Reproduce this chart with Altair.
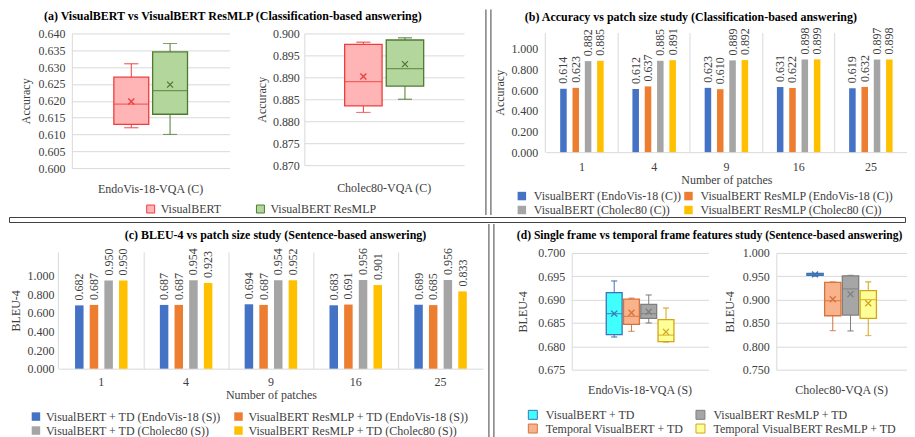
import altair as alt
import pandas as pd
import numpy as np

FONT = "Liberation Serif"
TXT = "#404040"
GRID = "#D9D9D9"
FRAME = "#404040"

# ---------------- data ----------------
patches = ["1", "4", "9", "16", "25"]

b_series = ["VisualBERT (EndoVis-18 (C))", "VisualBERT ResMLP (EndoVis-18 (C))",
            "VisualBERT (Cholec80 (C))", "VisualBERT ResMLP (Cholec80 (C))"]
b_visualbert_endo = [0.614, 0.612, 0.623, 0.631, 0.619]
b_resmlp_endo = [0.623, 0.637, 0.610, 0.622, 0.632]
b_visualbert_chol = [0.882, 0.885, 0.889, 0.898, 0.897]
b_resmlp_chol = [0.885, 0.891, 0.892, 0.899, 0.898]

c_series = ["VisualBERT + TD (EndoVis-18 (S))", "VisualBERT ResMLP + TD (EndoVis-18 (S))",
            "VisualBERT + TD (Cholec80 (S))", "VisualBERT ResMLP + TD (Cholec80 (S))"]
c_visualbert_endo = [0.682, 0.687, 0.694, 0.683, 0.689]
c_resmlp_endo = [0.687, 0.687, 0.687, 0.691, 0.685]
c_visualbert_chol = [0.950, 0.954, 0.954, 0.956, 0.956]
c_resmlp_chol = [0.950, 0.923, 0.952, 0.901, 0.833]

bar_colors = ["#4472C4", "#ED7D31", "#A5A5A5", "#FFC000"]

a_models = ["VisualBERT", "VisualBERT ResMLP"]
a_datasets = ["EndoVis-18-VQA (C)", "Cholec80-VQA (C)"]
a_fill = ["#FFB5B5", "#B3D69C"]
a_stroke = ["#F03C3C", "#4E7A30"]

d_legend_order = ["VisualBERT + TD", "VisualBERT ResMLP + TD",
                  "Temporal VisualBERT + TD", "Temporal VisualBERT ResMLP + TD"]
d_box_order = ["VisualBERT + TD", "Temporal VisualBERT + TD",
               "VisualBERT ResMLP + TD", "Temporal VisualBERT ResMLP + TD"]
d_fill = ["#40FFFF", "#A6A6A6", "#F8B28C", "#FFFF99"]
d_stroke = ["#3F72B5", "#7F7F7F", "#D8723A", "#D4A514"]
d_datasets = ["EndoVis-18-VQA (S)", "Cholec80-VQA (S)"]

# temporal models: box summaries [min, q1, median, q3, max, mean]
temporal_vb_endo = [0.6832, 0.6847, 0.6864, 0.6901, 0.6903, 0.6872]
temporal_rm_endo = [0.6809, 0.6810, 0.6824, 0.6857, 0.6882, 0.6831]
temporal_vb_chol = [0.8336, 0.8655, 0.8979, 0.9370, 0.9377, 0.9007]
temporal_rm_chol = [0.8230, 0.8598, 0.9000, 0.9193, 0.9380, 0.8924]

a1_ticks = [0.600, 0.605, 0.610, 0.615, 0.620, 0.625, 0.630, 0.635, 0.640]
a2_ticks = [0.870, 0.875, 0.880, 0.885, 0.890, 0.895, 0.900]
d1_ticks = [0.675, 0.680, 0.685, 0.690, 0.695, 0.700]
d2_ticks = [0.750, 0.800, 0.850, 0.900, 0.950, 1.000]
bar_ticks = [0.0, 0.2, 0.4, 0.6, 0.8, 1.0]

titles = {
    "a": "(a) VisualBERT vs VisualBERT ResMLP (Classification-based answering)",
    "b": "(b) Accuracy vs patch size study (Classification-based answering)",
    "c": "(c) BLEU-4 vs patch size study (Sentence-based answering)",
    "d": "(d) Single frame vs temporal frame features study (Sentence-based answering)",
}

STATS = ["min", "q1", "median", "q3", "max", "mean"]


def summary(vals):
    v = np.array(vals, dtype=float)
    q1, med, q3 = np.percentile(v, [25, 50, 75], method="weibull")
    return [v.min(), q1, med, q3, v.max(), v.mean()]


def box_rows(dataset, model, stats):
    return dict(dataset=dataset, model=model, **dict(zip(STATS, stats)))


a_df = pd.DataFrame([
    box_rows(a_datasets[0], a_models[0], summary(b_visualbert_endo)),
    box_rows(a_datasets[0], a_models[1], summary(b_resmlp_endo)),
    box_rows(a_datasets[1], a_models[0], summary(b_visualbert_chol)),
    box_rows(a_datasets[1], a_models[1], summary(b_resmlp_chol)),
])
d_df = pd.DataFrame([
    box_rows(d_datasets[0], "VisualBERT + TD", summary(c_visualbert_endo)),
    box_rows(d_datasets[0], "VisualBERT ResMLP + TD", summary(c_resmlp_endo)),
    box_rows(d_datasets[0], "Temporal VisualBERT + TD", temporal_vb_endo),
    box_rows(d_datasets[0], "Temporal VisualBERT ResMLP + TD", temporal_rm_endo),
    box_rows(d_datasets[1], "VisualBERT + TD", summary(c_visualbert_chol)),
    box_rows(d_datasets[1], "VisualBERT ResMLP + TD", summary(c_resmlp_chol)),
    box_rows(d_datasets[1], "Temporal VisualBERT + TD", temporal_vb_chol),
    box_rows(d_datasets[1], "Temporal VisualBERT ResMLP + TD", temporal_rm_chol),
])

b_df = pd.DataFrame({
    "patch": patches * 4,
    "series": [s for s in b_series for _ in patches],
    "value": b_visualbert_endo + b_resmlp_endo + b_visualbert_chol + b_resmlp_chol,
})
c_df = pd.DataFrame({
    "patch": patches * 4,
    "series": [s for s in c_series for _ in patches],
    "value": c_visualbert_endo + c_resmlp_endo + c_visualbert_chol + c_resmlp_chol,
})

XMARK = "M-1,-1L1,1M-1,1L1,-1"
ONE = pd.DataFrame({"v": [0]})


def ind(c):
    return c.resolve_scale(color="independent", fill="independent",
                           stroke="independent", xOffset="independent")


def box_plot(df, dataset, dom, order, fills, strokes, ydom, yticks, width, height,
             po, pi, box_w, cap_w, ytitle, label_pad, title_pad, xlabel_pad):
    sub = df[df["dataset"] == dataset]
    base = alt.Chart(sub)
    x = alt.X("dataset:N", title=None,
              scale=alt.Scale(paddingOuter=po, paddingInner=0),
              axis=alt.Axis(labelAngle=0, ticks=False, domain=False, grid=False,
                            labelPadding=xlabel_pad, labelFontSize=12))
    xo = alt.XOffset("model:N", sort=order,
                     scale=alt.Scale(paddingInner=pi, paddingOuter=0))
    ysc = alt.Scale(domain=ydom, nice=False, zero=False)
    yax = alt.Axis(values=yticks, format=".3f", grid=True, gridColor=GRID,
                   domain=True, domainColor=GRID, ticks=False,
                   labelPadding=label_pad, title=ytitle, titlePadding=title_pad)

    def Y(f):
        return alt.Y(f + ":Q", scale=ysc, axis=yax)

    fill = alt.Fill("model:N", scale=alt.Scale(domain=dom, range=fills), legend=None)
    stroke = alt.Stroke("model:N", scale=alt.Scale(domain=dom, range=strokes), legend=None)
    lower = base.mark_rule(strokeWidth=1).encode(x=x, xOffset=xo, y=Y("min"), y2="q1:Q", stroke=stroke)
    upper = base.mark_rule(strokeWidth=1).encode(x=x, xOffset=xo, y=Y("q3"), y2="max:Q", stroke=stroke)
    capl = base.mark_tick(size=cap_w, thickness=0, strokeWidth=1).encode(x=x, xOffset=xo, y=Y("min"), stroke=stroke)
    capu = base.mark_tick(size=cap_w, thickness=0, strokeWidth=1).encode(x=x, xOffset=xo, y=Y("max"), stroke=stroke)
    box = base.mark_bar(strokeWidth=1.3).encode(x=x, xOffset=xo, y=Y("q1"), y2="q3:Q", fill=fill, stroke=stroke)
    med = base.mark_tick(size=box_w, thickness=0, strokeWidth=1.3).encode(x=x, xOffset=xo, y=Y("median"), stroke=stroke)
    mean = base.mark_point(shape=XMARK, size=36, strokeWidth=1.3, filled=False, opacity=1).encode(
        x=x, xOffset=xo, y=Y("mean"), stroke=stroke)
    return alt.layer(lower, upper, capl, capu, box, med, mean).properties(width=width, height=height)


def legend_unit(dom, fills, strokes, lx, ly, colpad, rowpad, symsize, loff):
    leg = alt.Legend(orient="none", legendX=lx, legendY=ly, direction="horizontal",
                     columns=2, title=None, symbolType="square", symbolSize=symsize,
                     symbolStrokeWidth=1, labelFont=FONT, labelFontSize=12, labelColor=TXT,
                     labelLimit=600, columnPadding=colpad, rowPadding=rowpad, labelOffset=loff,
                     symbolOpacity=1)
    df = pd.DataFrame({"model": dom})
    return alt.Chart(df).mark_square(size=0, opacity=1).encode(
        fill=alt.Fill("model:N", scale=alt.Scale(domain=dom, range=fills), legend=leg),
        stroke=alt.Stroke("model:N", scale=alt.Scale(domain=dom, range=strokes), legend=leg),
    ).properties(width=1, height=1)


def bar_plot(df, series, ytitle, width, height, ymax,
             lx, ly, colpad, rowpad, loff, label_pad, title_pad, xlab_pad, p, pi):
    base = alt.Chart(df).encode(
        x=alt.X("patch:N", sort=patches, title="Number of patches",
                scale=alt.Scale(paddingInner=p, paddingOuter=p / 2),
                axis=alt.Axis(labelAngle=0, ticks=False, domain=True, domainColor=GRID,
                              grid=True, gridColor=GRID, bandPosition=-p / (2 * (1 - p)),
                              labelPadding=xlab_pad, titlePadding=2)),
        xOffset=alt.XOffset("series:N", sort=series,
                            scale=alt.Scale(paddingInner=pi, paddingOuter=0)),
        y=alt.Y("value:Q", title=ytitle, scale=alt.Scale(domain=[0, ymax], nice=False),
                axis=alt.Axis(values=bar_ticks, format=".3f", grid=False, domain=False,
                              ticks=False, labelPadding=label_pad, titlePadding=title_pad)),
    )
    leg = alt.Legend(orient="none", legendX=lx, legendY=ly, direction="horizontal",
                     columns=2, title=None, symbolType="square", symbolSize=72,
                     symbolStrokeWidth=0, labelFont=FONT, labelFontSize=12, labelColor=TXT,
                     labelLimit=600, columnPadding=colpad, rowPadding=rowpad, labelOffset=loff)
    bars = base.mark_bar().encode(
        color=alt.Color("series:N", sort=series,
                        scale=alt.Scale(domain=series, range=bar_colors), legend=leg))
    labels = base.mark_text(angle=270, align="left", baseline="middle", dx=5,
                            font=FONT, fontSize=12, color=TXT).encode(
        text=alt.Text("value:Q", format=".3f"))
    return alt.layer(bars, labels).properties(width=width, height=height)


def title_unit(text, dx, offset, size=12):
    return alt.Chart(ONE).mark_rule(opacity=0).encode(
        x=alt.value(0), y=alt.value(0), y2=alt.value(1)).properties(
        width=1, height=1, view=alt.ViewBackground(stroke=None, fill=None),
        title=alt.TitleParams(text, anchor="start", frame="group", dx=dx, offset=offset,
                              fontSize=size))


def gap(w):
    return alt.Chart(ONE).mark_rule(opacity=0).encode(
        x=alt.value(0), y=alt.value(0), y2=alt.value(1)).properties(
        width=w, height=1, view=alt.ViewBackground(stroke=None, fill=None))


def vsep(up, down):
    # the two adjoining panel borders (decorative frame lines)
    left = alt.Chart(ONE).mark_rule(color=FRAME, strokeWidth=1).encode(
        x=alt.value(0), y=alt.value(-up), y2=alt.value(down))
    right = alt.Chart(ONE).mark_rule(color=FRAME, strokeWidth=1).encode(
        x=alt.value(5), y=alt.value(-up), y2=alt.value(down))
    return alt.layer(left, right).properties(
        width=5, height=1, view=alt.ViewBackground(stroke=None, fill=None))


def hsep(w):
    return alt.Chart(ONE).mark_rule(opacity=0).encode(
        x=alt.value(0), y=alt.value(0), y2=alt.value(1)).properties(
        width=w, height=5, view=alt.ViewBackground(stroke=FRAME, strokeWidth=1, fill=None))


# ---------------- panel (a) ----------------
A1 = box_plot(a_df, a_datasets[0], a_models, a_models, a_fill, a_stroke, [0.600, 0.640], a1_ticks,
              158, 135, 0.57, 0.1, 35, 14, "Accuracy", 7, 5, 15)
A2 = box_plot(a_df, a_datasets[1], a_models, a_models, a_fill, a_stroke, [0.870, 0.900], a2_ticks,
              160, 132, 0.51, 0.1, 37.5, 14, "Accuracy", 5, 4, 17)
legA = legend_unit(a_models, a_fill, a_stroke, 73, 4, 33, 0, 64, 4)
A = ind(alt.vconcat(title_unit(titles["a"], -28, 2), ind(alt.hconcat(A1, A2, spacing=26)), legA,
                    spacing=1))

# ---------------- panel (b) ----------------
Bp = bar_plot(b_df, b_series, "Accuracy", 362, 120, 1.16,
              -30, 158, 1, 2, 6, 8, 4, 9, 0.398, 0.47)
B = ind(alt.vconcat(title_unit(titles["b"], -21, 1), Bp, spacing=1))

# ---------------- panel (c) ----------------
Cp = bar_plot(c_df, c_series, "BLEU-4", 425, 117, 1.258,
              -29, 159, 11, 2, 4, 5, 4, 8, 0.381, 0.42)
C = ind(alt.vconcat(title_unit(titles["c"], 66, 2), Cp, spacing=3))

# ---------------- panel (d) ----------------
D1 = box_plot(d_df, d_datasets[0], d_legend_order, d_box_order, d_fill, d_stroke, [0.675, 0.700], d1_ticks,
              137, 117, 0.51, 0.08, 16, 6, "BLEU-4", 7, 8, 15)
D2 = box_plot(d_df, d_datasets[1], d_legend_order, d_box_order, d_fill, d_stroke, [0.750, 1.000], d2_ticks,
              131, 117, 0.44, 0.08, 16, 6, "BLEU-4", 7, 6, 15)
legD = legend_unit(d_legend_order, d_fill, d_stroke, -45, 7, 9, 0, 81, 7)
D = ind(alt.vconcat(title_unit(titles["d"], -55, 2, 11.6), ind(alt.hconcat(D1, D2, spacing=15)), legD,
                    spacing=2))

# ---------------- layout with panel borders ----------------
row1 = ind(alt.hconcat(gap(11), A, gap(21), vsep(16, 190), gap(2), B, spacing=0))
row2 = ind(alt.hconcat(gap(1), C, gap(5), vsep(20, 194), gap(22), D, spacing=0))

chart = ind(alt.vconcat(row1, hsep(898), row2, spacing=0)).properties(
    padding=0
).configure_view(stroke=None).configure_axis(
    labelFont=FONT, titleFont=FONT, labelFontSize=12, titleFontSize=12,
    labelColor=TXT, titleColor=TXT, titleFontWeight="normal"
).configure_title(font=FONT, fontSize=12, fontWeight="bold", color="black")

chart.save("out.html", embed_options={"renderer": "svg", "actions": False})
